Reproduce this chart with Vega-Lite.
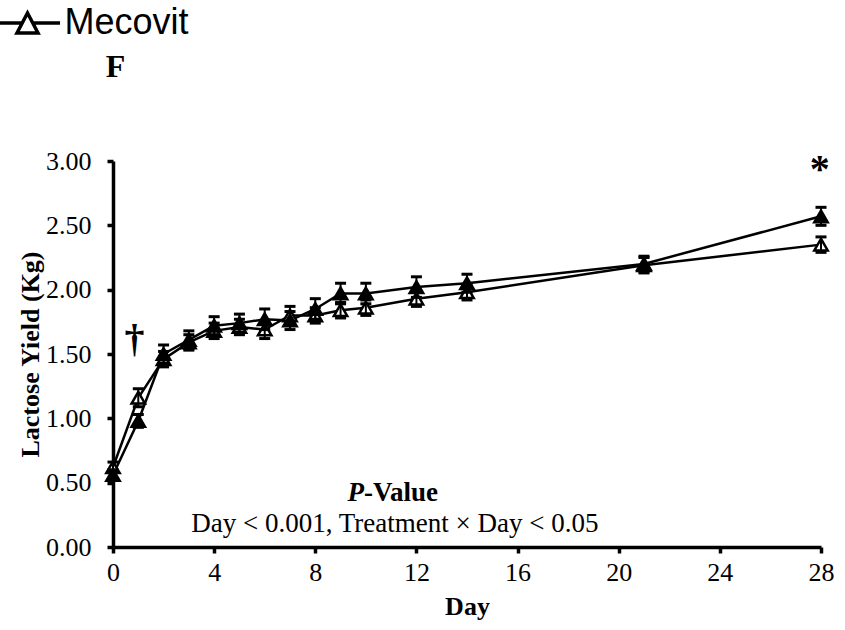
{
  "$schema": "https://vega.github.io/schema/vega-lite/v6.json",
  "width": 708,
  "height": 386,
  "autosize": "none",
  "padding": {"left": 113, "top": 161, "right": 24, "bottom": 83},
  "background": "white",
  "config": {
    "view": {"stroke": null},
    "tick": {"opacity": 1, "color": "black"},
    "rule": {"opacity": 1, "color": "black"},
    "axis": {
      "grid": false,
      "domainColor": "black",
      "domainWidth": 3.5,
      "tickColor": "black",
      "tickWidth": 3.5,
      "tickSize": 6,
      "labelFont": "Liberation Serif",
      "labelFontSize": 26,
      "labelColor": "black",
      "labelFlush": false,
      "titleFont": "Liberation Serif",
      "titleFontSize": 26,
      "titleFontWeight": "bold",
      "titleColor": "black"
    }
  },
  "datasets": {
    "yield": [
      {"day": 0, "group": "Mecovit", "mean": 0.62, "se": 0.04},
      {"day": 1, "group": "Mecovit", "mean": 1.16, "se": 0.07},
      {"day": 2, "group": "Mecovit", "mean": 1.46, "se": 0.06},
      {"day": 3, "group": "Mecovit", "mean": 1.59, "se": 0.06},
      {"day": 4, "group": "Mecovit", "mean": 1.68, "se": 0.06},
      {"day": 5, "group": "Mecovit", "mean": 1.71, "se": 0.06},
      {"day": 6, "group": "Mecovit", "mean": 1.69, "se": 0.07},
      {"day": 7, "group": "Mecovit", "mean": 1.80, "se": 0.07},
      {"day": 8, "group": "Mecovit", "mean": 1.80, "se": 0.06},
      {"day": 9, "group": "Mecovit", "mean": 1.84, "se": 0.06},
      {"day": 10, "group": "Mecovit", "mean": 1.86, "se": 0.06},
      {"day": 12, "group": "Mecovit", "mean": 1.93, "se": 0.06},
      {"day": 14, "group": "Mecovit", "mean": 1.98, "se": 0.06},
      {"day": 21, "group": "Mecovit", "mean": 2.19, "se": 0.06},
      {"day": 28, "group": "Mecovit", "mean": 2.35, "se": 0.06},
      {"day": 0, "group": "Control", "mean": 0.56, "se": 0.04},
      {"day": 1, "group": "Control", "mean": 0.98, "se": 0.05},
      {"day": 2, "group": "Control", "mean": 1.50, "se": 0.07},
      {"day": 3, "group": "Control", "mean": 1.61, "se": 0.07},
      {"day": 4, "group": "Control", "mean": 1.72, "se": 0.07},
      {"day": 5, "group": "Control", "mean": 1.74, "se": 0.07},
      {"day": 6, "group": "Control", "mean": 1.77, "se": 0.08},
      {"day": 7, "group": "Control", "mean": 1.76, "se": 0.07},
      {"day": 8, "group": "Control", "mean": 1.85, "se": 0.08},
      {"day": 9, "group": "Control", "mean": 1.97, "se": 0.08},
      {"day": 10, "group": "Control", "mean": 1.97, "se": 0.08},
      {"day": 12, "group": "Control", "mean": 2.02, "se": 0.08},
      {"day": 14, "group": "Control", "mean": 2.05, "se": 0.07},
      {"day": 21, "group": "Control", "mean": 2.20, "se": 0.06},
      {"day": 28, "group": "Control", "mean": 2.57, "se": 0.07}
    ],
    "marks": [
      {"day": 0.85, "value": 1.61, "label": "†"},
      {"day": 27.95, "value": 2.93, "label": "*"}
    ],
    "panel": [{"day": 0.1, "value": 3.655, "label": "F"}],
    "pItalic": [{"day": 9.93, "value": 0.357, "label": "P"}],
    "pBold": [{"day": 9.93, "value": 0.357, "label": "-Value"}],
    "stats": [{"day": 11.15, "value": 0.117, "label": "Day < 0.001,  Treatment × Day < 0.05"}]
  },
  "layer": [
    {
      "data": {"name": "yield"},
      "mark": {"type": "line", "color": "black", "strokeWidth": 2.5},
      "encoding": {
        "x": {
          "field": "day",
          "type": "quantitative",
          "title": "Day",
          "scale": {"domain": [0, 28], "nice": false},
          "axis": {"values": [0, 4, 8, 12, 16, 20, 24, 28], "labelPadding": 6, "titlePadding": 8, "titleColor": "black"}
        },
        "y": {
          "field": "mean",
          "type": "quantitative",
          "title": "Lactose Yield (Kg)",
          "scale": {"domain": [0, 3], "nice": false},
          "axis": {"values": [0, 0.5, 1, 1.5, 2, 2.5, 3], "format": ".2f", "labelPadding": 16, "titlePadding": 2, "titleColor": "black"}
        },
        "detail": {"field": "group"}
      }
    },
    {
      "data": {"name": "yield"},
      "mark": {"type": "point", "shape": "triangle-up", "filled": true, "size": 180, "stroke": "black", "strokeWidth": 2.5, "opacity": 1},
      "encoding": {
        "x": {"field": "day", "type": "quantitative", "title": "Day"},
        "y": {"field": "mean", "type": "quantitative", "title": "Lactose Yield (Kg)"},
        "fill": {
          "field": "group",
          "type": "nominal",
          "scale": {"domain": ["Control", "Mecovit"], "range": ["black", "white"]},
          "legend": {
            "values": ["Mecovit"],
            "orient": "none",
            "legendX": -103.5,
            "legendY": -156,
            "title": null,
            "padding": 0,
            "symbolType": "M-3.1,0H-0.5M0.5,0H3.1M0,-0.95L1,0.95L-1,0.95Z",
            "symbolSize": 441,
            "symbolStrokeColor": "black",
            "symbolStrokeWidth": 3.5,
            "labelFont": "Liberation Sans",
            "labelFontSize": 36,
            "labelColor": "black",
            "labelOffset": 19
          }
        }
      }
    },
    {
      "data": {"name": "yield"},
      "mark": {"type": "errorbar", "color": "black", "ticks": {"size": 11, "thickness": 3, "color": "black", "opacity": 1}, "rule": {"strokeWidth": 2, "color": "black", "opacity": 1}},
      "encoding": {
        "x": {"field": "day", "type": "quantitative", "title": "Day"},
        "y": {"field": "mean", "type": "quantitative", "title": "Lactose Yield (Kg)"},
        "yError": {"field": "se"},
        "detail": {"field": "group"}
      }
    },
    {
      "data": {"name": "marks"},
      "mark": {"type": "text", "font": "Liberation Serif", "fontSize": 40, "fontWeight": "bold", "color": "black", "baseline": "middle", "align": "center"},
      "encoding": {
        "x": {"field": "day", "type": "quantitative"},
        "y": {"field": "value", "type": "quantitative"},
        "text": {"field": "label"}
      }
    },
    {
      "data": {"name": "panel"},
      "mark": {"type": "text", "font": "Liberation Serif", "fontSize": 32, "fontWeight": "bold", "color": "black", "baseline": "alphabetic", "align": "center", "clip": false},
      "encoding": {
        "x": {"field": "day", "type": "quantitative"},
        "y": {"field": "value", "type": "quantitative"},
        "text": {"field": "label"}
      }
    },
    {
      "data": {"name": "pItalic"},
      "mark": {"type": "text", "font": "Liberation Serif", "fontSize": 27, "fontWeight": "bold", "fontStyle": "italic", "color": "black", "baseline": "alphabetic", "align": "right"},
      "encoding": {
        "x": {"field": "day", "type": "quantitative"},
        "y": {"field": "value", "type": "quantitative"},
        "text": {"field": "label"}
      }
    },
    {
      "data": {"name": "pBold"},
      "mark": {"type": "text", "font": "Liberation Serif", "fontSize": 27, "fontWeight": "bold", "color": "black", "baseline": "alphabetic", "align": "left"},
      "encoding": {
        "x": {"field": "day", "type": "quantitative"},
        "y": {"field": "value", "type": "quantitative"},
        "text": {"field": "label"}
      }
    },
    {
      "data": {"name": "stats"},
      "mark": {"type": "text", "font": "Liberation Serif", "fontSize": 27, "color": "black", "baseline": "alphabetic", "align": "center"},
      "encoding": {
        "x": {"field": "day", "type": "quantitative"},
        "y": {"field": "value", "type": "quantitative"},
        "text": {"field": "label"}
      }
    }
  ]
}
